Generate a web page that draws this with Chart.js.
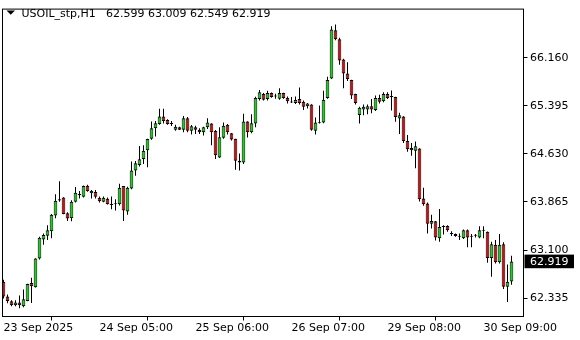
<!DOCTYPE html>
<html>
<head>
<meta charset="utf-8">
<script src="https://cdn.jsdelivr.net/npm/chart.js@4.4.1/dist/chart.umd.min.js"></script>
<style>
html,body{margin:0;padding:0;background:#fff;}
#wrap{width:580px;height:340px;position:relative;}
canvas{display:block;}
</style>
</head>
<body>
<div id="wrap"><canvas id="c" width="580" height="340"></canvas></div>
<script>
const symbolTitle = 'USOIL_stp,H1';

const opens = [62.595,62.362,62.284,62.221,62.263,62.206,62.288,62.575,62.506,62.965,
63.266,63.328,63.401,63.650,63.909,63.936,63.686,63.608,63.869,63.993,
63.947,64.123,64.003,64.025,63.931,63.869,63.915,63.827,63.840,63.831,
64.118,63.713,64.081,64.368,64.455,64.548,64.689,64.871,65.038,65.105,
65.225,65.172,65.116,65.016,65.053,65.016,65.198,65.000,65.053,65.016,
64.975,65.053,65.116,65.000,64.575,64.886,65.094,64.960,64.871,64.523,
64.492,65.147,64.975,65.116,65.505,65.583,65.505,65.599,65.557,65.510,
65.599,65.521,65.459,65.443,65.505,65.459,65.390,65.416,65.000,65.131,
65.131,65.521,65.833,66.601,66.456,66.133,65.910,65.806,65.583,65.250,
65.338,65.338,65.390,65.328,65.521,65.468,65.583,65.546,65.536,65.194,
65.225,64.835,64.726,64.679,64.715,63.920,63.842,63.520,63.557,63.286,
63.479,63.484,63.364,63.354,63.323,63.286,63.417,63.323,63.339,63.301,
63.417,63.390,62.974,63.183,62.907,63.192,62.517,62.599];

const highs = [62.626,62.393,62.299,62.299,62.377,62.471,62.564,62.658,62.969,63.310,
63.364,63.495,63.675,63.987,64.196,63.940,63.702,63.894,64.102,64.040,
64.127,64.138,64.056,64.056,63.951,63.951,63.936,63.951,63.909,64.154,
64.120,64.107,64.508,64.517,64.757,64.767,64.871,65.147,65.156,65.349,
65.349,65.183,65.156,65.094,65.063,65.234,65.218,65.089,65.078,65.038,
65.063,65.198,65.120,65.011,65.053,65.131,65.105,64.964,64.871,64.637,
65.271,65.151,65.260,65.541,65.650,65.599,65.635,65.608,65.588,65.677,
65.603,65.546,65.536,65.546,65.686,65.479,65.443,65.420,65.209,65.401,
65.635,65.858,66.663,66.690,66.481,66.144,66.091,65.810,65.588,65.381,
65.416,65.416,65.505,65.561,65.572,65.614,65.614,65.639,65.540,65.287,
65.230,64.933,64.804,64.829,64.720,64.092,63.858,63.660,63.562,63.753,
63.495,63.495,63.401,63.364,63.364,63.426,63.426,63.354,63.354,63.479,
63.479,63.395,63.234,63.261,63.354,63.224,62.871,63.009];

const lows = [62.330,62.252,62.206,62.206,62.175,62.190,62.284,62.257,62.502,62.950,
63.183,63.261,63.286,63.608,63.869,63.671,63.562,63.557,63.858,63.920,
63.936,64.029,63.920,63.920,63.858,63.860,63.827,63.749,63.728,63.811,
63.562,63.660,64.066,64.283,64.430,64.470,64.419,64.855,64.907,65.094,
65.116,65.094,65.073,65.000,65.011,64.975,64.975,64.938,64.949,64.949,
64.922,65.027,64.767,64.548,64.564,64.871,64.938,64.844,64.377,64.367,
64.470,64.891,64.960,65.053,65.479,65.479,65.479,65.525,65.510,65.494,
65.510,65.432,65.443,65.427,65.416,65.328,65.354,65.000,64.938,65.116,
65.120,65.510,65.822,66.440,66.051,65.677,65.790,65.505,65.416,65.116,
65.245,65.261,65.276,65.312,65.432,65.452,65.505,65.323,65.141,64.949,
64.804,64.664,64.601,64.403,63.873,63.806,63.364,63.442,63.250,63.234,
63.348,63.390,63.323,63.312,63.261,63.276,63.146,63.146,63.301,63.286,
63.286,62.896,62.673,62.887,62.887,62.481,62.273,62.549];

const closes = [62.362,62.288,62.221,62.263,62.221,62.315,62.560,62.522,62.965,63.297,
63.339,63.417,63.660,63.884,63.889,63.675,63.604,63.869,64.014,63.972,
64.118,64.040,64.045,63.947,63.878,63.931,63.831,63.822,63.835,64.092,
63.728,64.092,64.368,64.481,64.544,64.679,64.866,65.038,65.120,65.225,
65.156,65.105,65.110,65.063,65.016,65.198,65.000,65.069,65.016,64.975,
65.053,65.131,64.975,64.611,64.897,65.078,64.975,64.860,64.523,64.492,
65.147,64.975,65.120,65.521,65.614,65.494,65.599,65.536,65.550,65.599,
65.521,65.468,65.455,65.490,65.443,65.381,65.432,65.016,65.131,65.125,
65.494,65.806,66.612,66.456,66.118,65.910,65.822,65.561,65.443,65.365,
65.381,65.390,65.338,65.521,65.459,65.583,65.521,65.540,65.218,65.245,
64.835,64.704,64.689,64.751,63.909,63.831,63.520,63.562,63.301,63.468,
63.470,63.417,63.360,63.323,63.318,63.417,63.301,63.318,63.334,63.417,
63.412,62.974,63.192,62.907,63.183,62.517,62.595,62.919];

const timeTickBars = [0, 24, 48, 72, 96, 120];
const timeTickLabels = ['23 Sep 2025', '24 Sep 05:00', '25 Sep 06:00', '26 Sep 07:00', '29 Sep 08:00', '30 Sep 09:00'];
const priceTicks = [62.335, 63.100, 63.865, 64.630, 65.395, 66.160];

const GREEN = '#10d810';
const RED = '#dc0a0a';

const bodyData = opens.map((o, i) => {
  const c = closes[i];
  let lo = Math.min(o, c), hi = Math.max(o, c);
  if (hi - lo < 0.016) { const m = (hi + lo) / 2; lo = m - 0.008; hi = m + 0.008; }
  return { x: i, y: [lo, hi] };
});
const wickData = highs.map((h, i) => ({ x: i, y: [lows[i], h] }));
const bodyColors = opens.map((o, i) => closes[i] >= o ? GREEN : RED);

const overlay = {
  id: 'overlay',
  afterDraw(chart) {
    const { ctx, chartArea: a, scales } = chart;
    ctx.save();
    ctx.strokeStyle = '#000';
    ctx.lineWidth = 1;
    ctx.strokeRect(a.left, a.top, a.right - a.left, a.bottom - a.top);
    // title
    ctx.fillStyle = '#000';
    ctx.beginPath();
    ctx.moveTo(6.5, 10.5); ctx.lineTo(15, 10.5); ctx.lineTo(10.75, 14.8); ctx.closePath();
    ctx.fill();
    ctx.font = '11px "DejaVu Sans"';
    ctx.textAlign = 'left';
    ctx.textBaseline = 'alphabetic';
    ctx.fillText(symbolTitle, 21.5, 16.5);
    const last = opens.length - 1;
    ctx.fillText([opens[last], highs[last], lows[last], closes[last]].map(v => v.toFixed(3)).join(' '), 106, 16.5);
    // current price label
    const yp = scales.y.getPixelForValue(closes[last]);
    ctx.fillStyle = '#000';
    ctx.fillRect(a.right + 1, yp - 6.8, 49.5, 13.6);
    ctx.fillStyle = '#fff';
    ctx.textBaseline = 'middle';
    ctx.fillText(closes[last].toFixed(3), 530, yp + 0.5);
    ctx.restore();
  }
};

new Chart(document.getElementById('c'), {
  type: 'bar',
  data: {
    datasets: [
      { data: wickData, backgroundColor: '#000', borderWidth: 0, barThickness: 1, inflateAmount: 0, grouped: false, order: 2, clip: 0 },
      { data: bodyData, backgroundColor: bodyColors, borderColor: '#000', borderWidth: 1, borderSkipped: false, barThickness: 3.6, inflateAmount: 0, grouped: false, order: 1, clip: 0 }
    ]
  },
  options: {
    responsive: false,
    devicePixelRatio: 1,
    animation: false,
    events: [],
    layout: { padding: { left: 2.5, top: 2.5, right: 0, bottom: 0 } },
    plugins: { legend: { display: false }, tooltip: { enabled: false }, title: { display: false } },
    scales: {
      x: {
        type: 'linear', min: -0.25, max: 130, bounds: 'data', offset: false,
        border: { display: false },
        grid: { drawOnChartArea: false, drawTicks: true, tickLength: 4, color: '#000', lineWidth: 1 },
        afterBuildTicks: s => { s.ticks = timeTickBars.map(v => ({ value: v })); },
        afterFit: s => { s.height = 23.5; },
        ticks: {
          autoSkip: false, maxRotation: 0, minRotation: 0, align: 'start', padding: 1, color: '#000',
          font: { family: 'DejaVu Sans', size: 11 },
          callback: v => { const k = timeTickBars.indexOf(v); return k >= 0 ? timeTickLabels[k] : null; }
        }
      },
      y: {
        type: 'linear', position: 'right', min: 62.042, max: 66.936, bounds: 'data',
        border: { display: false },
        grid: { drawOnChartArea: false, drawTicks: true, tickLength: 4, color: '#000', lineWidth: 1 },
        afterBuildTicks: s => { s.ticks = priceTicks.map(v => ({ value: v })); },
        afterFit: s => { s.width = 56.5; },
        ticks: { padding: 2.5, color: '#000', font: { family: 'DejaVu Sans', size: 11 }, callback: v => v.toFixed(3) }
      }
    }
  },
  plugins: [overlay]
});
</script>
</body>
</html>
